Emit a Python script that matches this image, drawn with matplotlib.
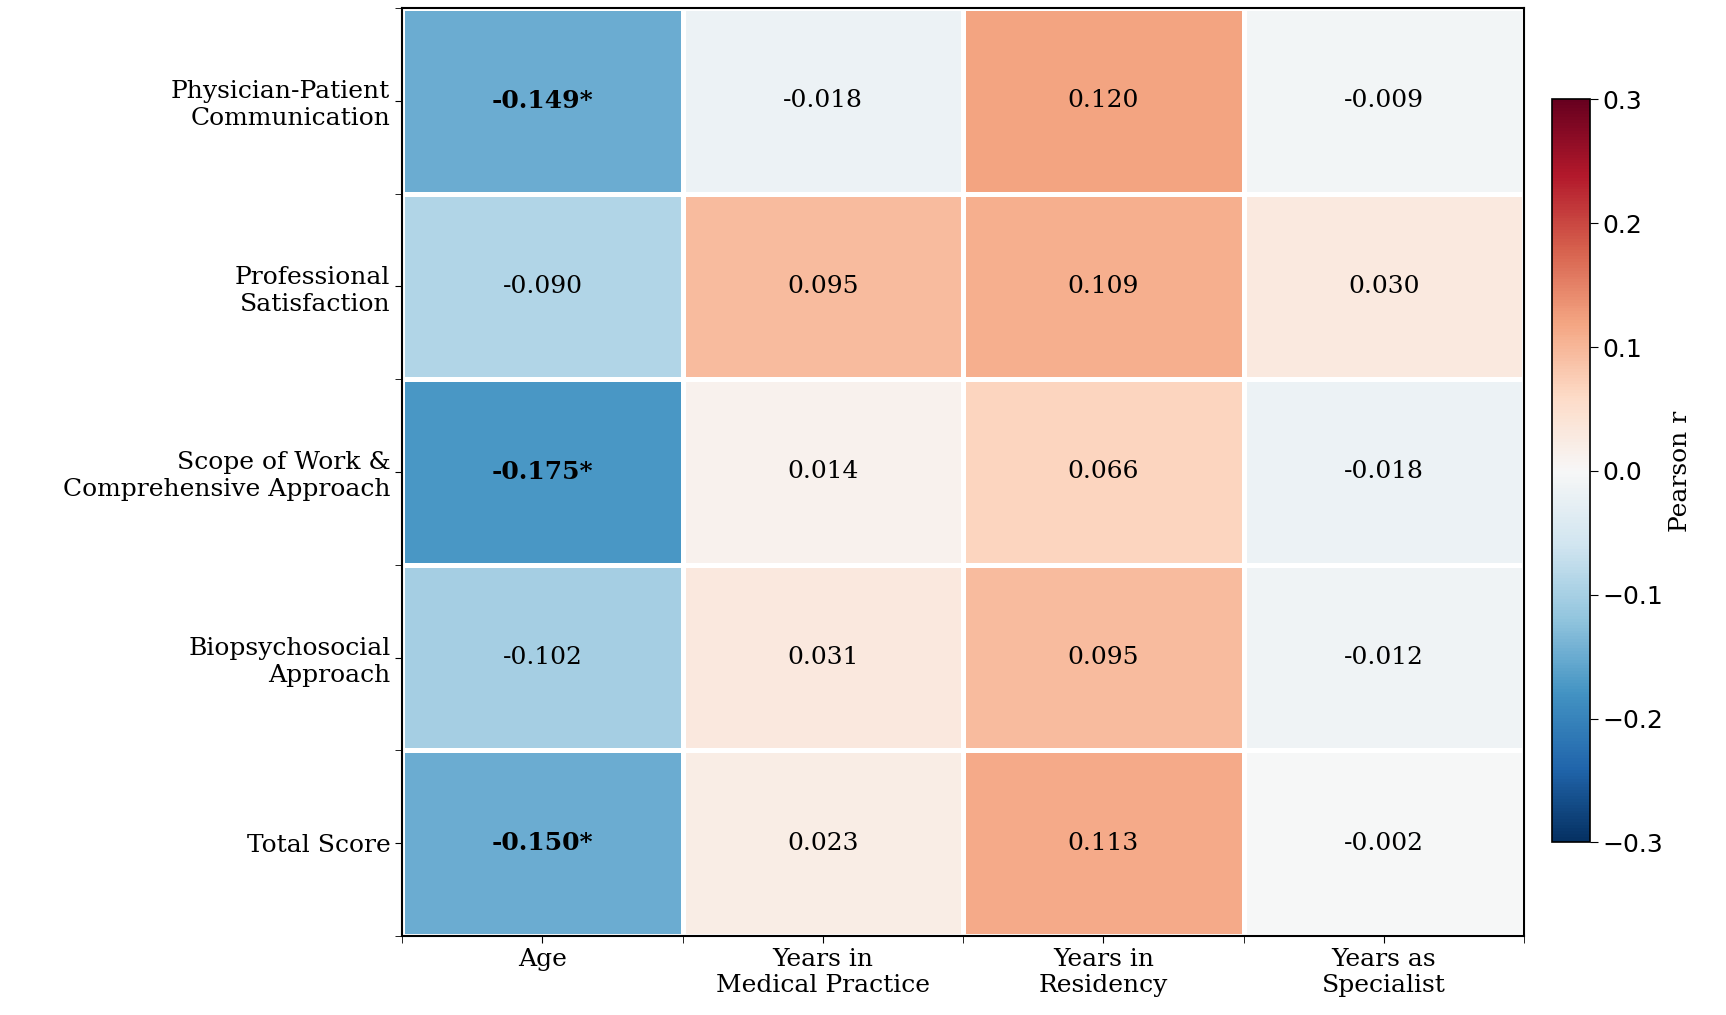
import matplotlib
matplotlib.use("Agg")
import matplotlib.pyplot as plt
import numpy as np

rows = ["Physician-Patient\nCommunication", "Professional\nSatisfaction",
        "Scope of Work &\nComprehensive Approach", "Biopsychosocial\nApproach", "Total Score"]
cols = ["Age", "Years in\nMedical Practice", "Years in\nResidency", "Years as\nSpecialist"]
r_vals = np.array([
    [-0.149, -0.018, 0.120, -0.009],
    [-0.090, 0.095, 0.109, 0.030],
    [-0.175, 0.014, 0.066, -0.018],
    [-0.102, 0.031, 0.095, -0.012],
    [-0.150, 0.023, 0.113, -0.002],
])
significant = np.array([
    [True, False, False, False],
    [False, False, False, False],
    [True, False, False, False],
    [False, False, False, False],
    [True, False, False, False],
])

fig = plt.figure(figsize=(17.26, 10.15), dpi=100)
ax = fig.add_axes([0.233, 0.078, 0.650, 0.914])
cax = fig.add_axes([0.899, 0.170, 0.022, 0.732])

mesh = ax.pcolormesh(r_vals, cmap="RdBu_r", vmin=-0.3, vmax=0.3,
                     edgecolors="white", linewidth=2.5)
ax.set_xlim(0, len(cols)); ax.set_ylim(len(rows), 0)
for i in range(len(rows)):
    for j in range(len(cols)):
        txt = f"{r_vals[i, j]:.3f}" + ("*" if significant[i, j] else "")
        ax.text(j + 0.5, i + 0.5, txt, ha="center", va="center", family="DejaVu Serif",
                fontsize=18, fontweight="bold" if significant[i, j] else "normal")

ax.set_xticks(np.arange(len(cols)) + 0.5)
ax.set_xticklabels(cols, family="DejaVu Serif", fontsize=18)
ax.set_yticks(np.arange(len(rows)) + 0.5)
ax.set_yticklabels(rows, family="DejaVu Serif", fontsize=18, ha="right")
ax.set_xticks(np.arange(len(cols) + 1), minor=True)
ax.set_yticks(np.arange(len(rows) + 1), minor=True)
ax.tick_params(which="both", length=5)
for s in ax.spines.values():
    s.set_linewidth(1.5)

cb = fig.colorbar(mesh, cax=cax)
cb.set_ticks([-0.3, -0.2, -0.1, 0.0, 0.1, 0.2, 0.3])
cb.ax.tick_params(labelsize=18, length=6)
cb.set_label("Pearson r", family="DejaVu Serif", fontsize=18)
cb.outline.set_linewidth(1.2)

fig.savefig("out.png", dpi=100)
